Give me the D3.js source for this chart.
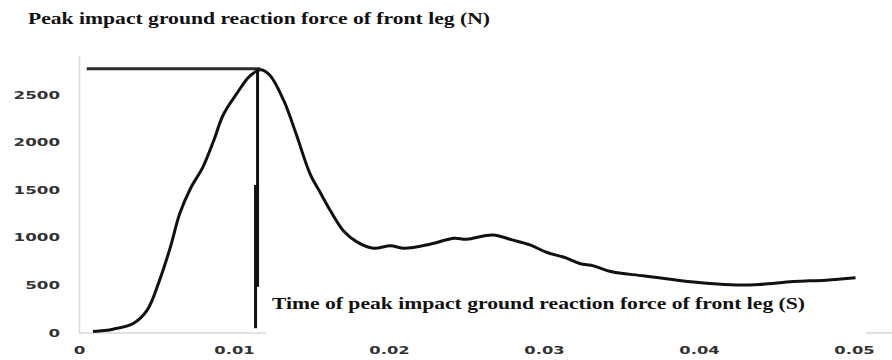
<!DOCTYPE html>
<html>
<head>
<meta charset="utf-8">
<script src="https://cdn.jsdelivr.net/npm/d3@7"></script>
<style>
	body { margin: 0; background: #fff; }
	.axis path { stroke: #d9d9d9; stroke-width: 1.5px; }
	.axis text { font-family: "DejaVu Sans", sans-serif; font-weight: bold; font-size: 11px; fill: #333; }
	.ttl { font-family: "Liberation Serif", "Times New Roman", serif; font-weight: bold; font-size: 17px; fill: #111; }
</style>
</head>
<body>
<div id="chart"></div>
<script>
// values
var timeS = [0.0009, 0.0022, 0.0035, 0.0044, 0.0052, 0.0059, 0.0065, 0.0072, 0.0080, 0.0087, 0.0093, 0.0102, 0.0110, 0.0117, 0.0123,
	0.0132, 0.0140, 0.0149, 0.0156, 0.0162, 0.0171, 0.0179, 0.0190, 0.0201, 0.0210, 0.0227, 0.0242, 0.0250, 0.0267, 0.0280,
	0.0291, 0.0302, 0.0313, 0.0323, 0.0332, 0.0343, 0.0364, 0.0386, 0.0407, 0.0424, 0.0439, 0.0461, 0.0482, 0.0501];
var forceN = [10, 35, 95, 235, 550, 900, 1250, 1515, 1740, 2020, 2285, 2515, 2690, 2760, 2705,
	2440, 2090, 1670, 1460, 1285, 1060, 955, 885, 910, 885, 930, 990, 980, 1025, 970,
	920, 840, 790, 725, 700, 640, 595, 550, 515, 500, 505, 535, 550, 575];
var yTicks = [0, 500, 1000, 1500, 2000, 2500];
var xTicks = [0, 0.01, 0.02, 0.03, 0.04, 0.05];
var xTickLabels = ["0", "0.01", "0.02", "0.03", "0.04", "0.05"];

var peakForce = 2770, peakTime = 0.01152, peakTime2 = 0.01139;

var W = 892, H = 360;

var svg = d3.select("#chart").append("svg").attr("width", W).attr("height", H);

var xSc = d3.scaleLinear().domain([0, 0.0525]).range([79, 892.75]);
var ySc = d3.scaleLinear().domain([0, 2915]).range([332.5, 55]);

// stretched look of the labels in the picture
function labLen(s) {
	var dots = (s.match(/\./g) || []).length;
	return (s.length - dots) * 11.6 + dots * 5.5;
}

var yAxis = d3.axisLeft(ySc).tickValues(yTicks).tickSize(0).tickSizeOuter(0).tickPadding(19)
	.tickFormat(function(d) { return String(d); });
var xAxis = d3.axisBottom(xSc).tickValues(xTicks).tickSize(0).tickSizeOuter(0).tickPadding(14)
	.tickFormat(function(d, i) { return xTickLabels[i]; });

svg.append("g").attr("class", "y axis").attr("transform", "translate(" + xSc(0) + ",0)").call(yAxis);
svg.append("g").attr("class", "x axis").attr("transform", "translate(0," + ySc(0) + ")").call(xAxis);

svg.selectAll(".axis text")
	.attr("textLength", function() { return labLen(this.textContent); })
	.attr("lengthAdjust", "spacingAndGlyphs");

// the curve
var line = d3.line()
	.x(function(d, i) { return xSc(timeS[i]); })
	.y(function(d) { return ySc(d); })
	.curve(d3.curveCatmullRom.alpha(0.5));

svg.append("path").datum(forceN)
	.attr("d", line)
	.attr("fill", "none")
	.attr("stroke", "#111")
	.attr("stroke-width", 3)
	.attr("stroke-linejoin", "round");

// peak marker lines
svg.append("line")
	.attr("x1", xSc(0.0005)).attr("x2", xSc(0.0117))
	.attr("y1", ySc(peakForce)).attr("y2", ySc(peakForce))
	.attr("stroke", "#2a2a2a").attr("stroke-width", 3);
svg.append("line")
	.attr("x1", xSc(peakTime)).attr("x2", xSc(peakTime))
	.attr("y1", ySc(peakForce)).attr("y2", ySc(480))
	.attr("stroke", "#111").attr("stroke-width", 3);
svg.append("line")
	.attr("x1", xSc(peakTime2)).attr("x2", xSc(peakTime2))
	.attr("y1", ySc(1550)).attr("y2", ySc(45))
	.attr("stroke", "#111").attr("stroke-width", 3);

// text box with the time label, sits over the axis line
svg.append("rect")
	.attr("x", 266).attr("y", 290).attr("width", 600).attr("height", 52)
	.attr("fill", "#fff");
svg.append("text").attr("class", "ttl")
	.attr("x", 272).attr("y", 309)
	.attr("textLength", 533).attr("lengthAdjust", "spacingAndGlyphs")
	.text("Time of peak impact ground reaction force of front leg (S)");

svg.append("text").attr("class", "ttl")
	.attr("x", 28).attr("y", 24)
	.attr("textLength", 462).attr("lengthAdjust", "spacingAndGlyphs")
	.text("Peak impact ground reaction force of front leg (N)");
</script>
</body>
</html>
